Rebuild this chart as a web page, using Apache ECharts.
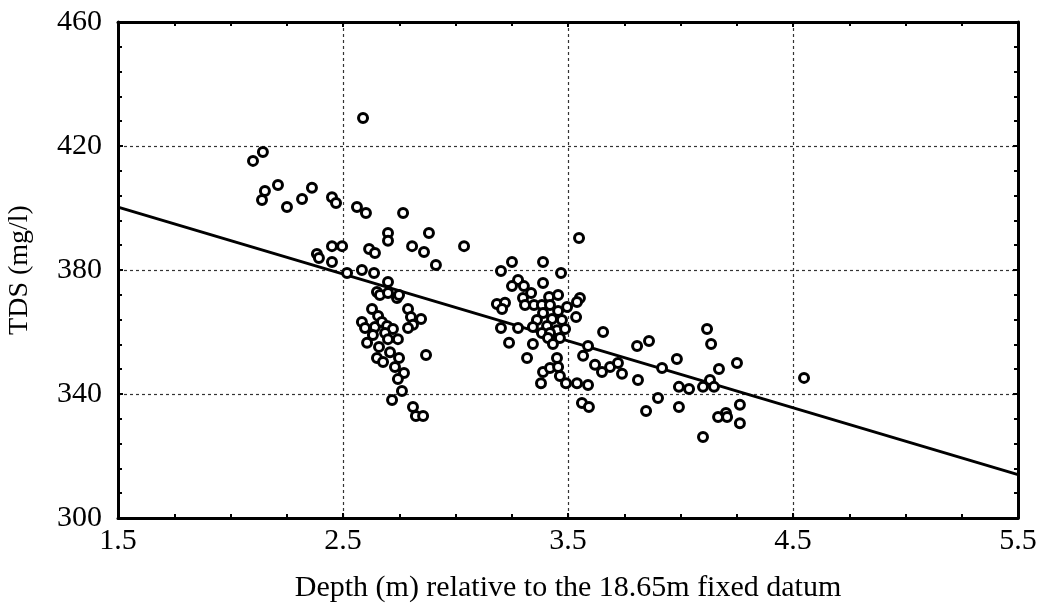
<!DOCTYPE html>
<html>
<head>
<meta charset="utf-8">
<script src="https://cdn.jsdelivr.net/npm/echarts@6/dist/echarts.min.js"></script>
<style>
html,body{margin:0;padding:0;background:#fff;}
#chart{width:1037px;height:615px;}
</style>
</head>
<body>
<div id="chart"></div>
<script>
// Depth (m) values of the observations
const depth = [
  2.10, 2.144, 2.153, 2.14, 2.211, 2.251, 2.318, 2.362, 2.451, 2.469,
  2.562, 2.602, 2.589, 2.384, 2.393, 2.451, 2.496, 2.451, 2.518, 2.584,
  2.638, 2.616, 2.642, 2.651, 2.767, 2.70, 2.70, 2.882, 2.807, 2.86,
  3.038, 2.913, 2.70, 2.664, 2.70, 2.74, 2.749, 2.629, 2.656, 2.584,
  2.598, 2.642, 2.673, 2.696, 2.722, 2.789, 2.802, 2.847, 2.811, 2.789,
  2.633, 2.687, 2.744, 2.70, 2.607, 2.66, 2.709, 2.651, 2.678, 2.749,
  2.869, 2.731, 2.771, 2.744, 2.762, 2.718, 2.811, 2.824, 2.856,
  3.549, 3.251, 3.389, 3.202, 3.469, 3.278, 3.389, 3.251, 3.304, 3.336,
  3.30, 3.416, 3.456, 3.553, 3.54, 3.184, 3.22, 3.207, 3.309, 3.349,
  3.384, 3.42, 3.496, 3.389, 3.456, 3.536, 3.362, 3.429, 3.473, 3.202,
  3.278, 3.344, 3.407, 3.451, 3.487, 3.656, 3.384, 3.42, 3.411, 3.464,
  3.433, 3.238, 3.344, 3.589, 3.807, 3.567, 3.318, 3.451, 3.62, 3.687,
  3.722, 3.389, 3.42, 3.456, 3.651, 3.74, 3.464, 3.491, 3.54, 3.589,
  3.38, 3.811, 3.562, 3.593,
  3.86, 4.118, 4.136, 3.984, 3.918, 4.251, 4.171, 4.549, 3.993, 4.038,
  4.10, 4.131, 4.149, 3.90, 3.993, 3.847, 4.264, 4.167, 4.202, 4.207,
  4.264, 4.10
];
// TDS (mg/l) values of the observations
const tds = [
  415.2, 418.1, 405.5, 402.6, 407.4, 400.3, 402.9, 406.5, 403.5, 401.6,
  400.3, 398.4, 429.0, 385.2, 383.9, 387.7, 387.7, 382.6, 379.0, 380.0,
  379.0, 386.8, 385.5, 372.9, 398.4, 391.9, 389.4, 391.9, 387.7, 385.8,
  387.7, 381.6, 376.1, 371.9, 372.6, 371.0, 371.9, 367.4, 365.2, 363.2,
  361.3, 361.6, 363.2, 361.9, 361.0, 367.4, 364.8, 364.2, 362.3, 361.3,
  359.0, 359.7, 357.7, 357.7, 356.5, 355.2, 353.5, 351.6, 350.3, 351.6,
  352.6, 348.7, 346.8, 344.8, 341.0, 338.1, 335.8, 332.9, 332.9,
  390.3, 382.6, 382.6, 379.7, 379.0, 376.8, 375.8, 374.8, 374.8, 372.6,
  371.0, 371.3, 371.9, 371.0, 369.7, 369.0, 369.4, 367.4, 368.7, 368.7,
  368.7, 368.7, 368.1, 366.1, 366.8, 364.8, 363.9, 364.2, 363.9, 361.3,
  361.3, 361.6, 361.9, 360.6, 361.0, 360.0, 359.7, 359.7, 358.1, 358.1,
  356.1, 356.5, 356.1, 355.5, 355.5, 352.3, 351.6, 351.6, 349.4, 348.7,
  350.0, 347.1, 348.4, 348.7, 347.1, 346.5, 345.8, 343.5, 343.5, 342.9,
  343.5, 344.5, 337.1, 335.8,
  357.1, 361.0, 356.1, 351.3, 348.4, 350.0, 348.1, 345.2, 342.3, 341.6,
  342.3, 344.5, 342.3, 338.7, 335.8, 334.5, 336.5, 332.6, 333.9, 332.6,
  330.6, 326.1
];
// Fitted regression line end points
const fitDepth = [1.5, 5.5];
const fitTds = [400.3, 314.0];

const xTicks = ['1.5', '2.5', '3.5', '4.5', '5.5'];
const yTicks = ['300', '340', '380', '420', '460'];

const points = depth.map((d, i) => [d, tds[i]]);
const fitLine = fitDepth.map((d, i) => [d, fitTds[i]]);

const FONT = 'Liberation Serif';
const chart = echarts.init(document.getElementById('chart'), null, {renderer: 'canvas'});

const baseX = {
  type: 'value', min: 1.5, max: 5.5, interval: 1,
  axisLine: {show: true, onZero: false, lineStyle: {color: '#000', width: 3}},
  axisTick: {show: true, inside: true, length: 5, lineStyle: {color: '#000', width: 2}},
  minorTick: {show: true, splitNumber: 4, length: 4, lineStyle: {color: '#000', width: 2}},
  splitLine: {show: false}
};
const baseY = {
  type: 'value', min: 300, max: 460, interval: 40,
  axisLine: {show: true, onZero: false, lineStyle: {color: '#000', width: 3}},
  axisTick: {show: true, inside: true, length: 5, lineStyle: {color: '#000', width: 2}},
  minorTick: {show: true, splitNumber: 5, length: 4, lineStyle: {color: '#000', width: 2}},
  splitLine: {show: false}
};

chart.setOption({
  backgroundColor: '#fff',
  animation: false,
  grid: {left: 118, right: 19, top: 22, bottom: 97, containLabel: false, outerBoundsMode: 'none'},
  xAxis: [
    Object.assign({}, baseX, {
      position: 'bottom',
      axisLabel: {show: true, color: '#000', fontFamily: FONT, fontSize: 30, margin: 8,
        formatter: v => xTicks.find(t => Math.abs(parseFloat(t) - v) < 1e-6) || ''},
      splitLine: {show: true, lineStyle: {color: '#333', width: 1.2, type: [3, 3]}},
      name: 'Depth (m) relative to the 18.65m fixed datum',
      nameLocation: 'middle', nameGap: 55,
      nameTextStyle: {color: '#000', fontFamily: FONT, fontSize: 30}
    }),
    Object.assign({}, baseX, {position: 'top', axisLabel: {show: false}})
  ],
  yAxis: [
    Object.assign({}, baseY, {
      position: 'left',
      axisLabel: {show: true, color: '#000', fontFamily: FONT, fontSize: 30, margin: 16,
        formatter: v => yTicks.find(t => Math.abs(parseFloat(t) - v) < 1e-6) || ''},
      splitLine: {show: true, lineStyle: {color: '#333', width: 1.2, type: [3, 3]}},
      name: 'TDS (mg/l)', nameLocation: 'middle', nameGap: 84, nameRotate: 90,
      nameTextStyle: {color: '#000', fontFamily: FONT, fontSize: 28}
    }),
    Object.assign({}, baseY, {position: 'right', axisLabel: {show: false}})
  ],
  series: [
    {
      type: 'line', data: fitLine, xAxisIndex: 0, yAxisIndex: 0,
      showSymbol: false, symbol: 'none', silent: true, z: 2,
      lineStyle: {color: '#000', width: 3}
    },
    {
      type: 'scatter', data: points, xAxisIndex: 0, yAxisIndex: 0,
      symbol: 'circle', symbolSize: 9, z: 3,
      itemStyle: {color: '#fff', borderColor: '#000', borderWidth: 3, opacity: 1}
    }
  ]
});
</script>
</body>
</html>
